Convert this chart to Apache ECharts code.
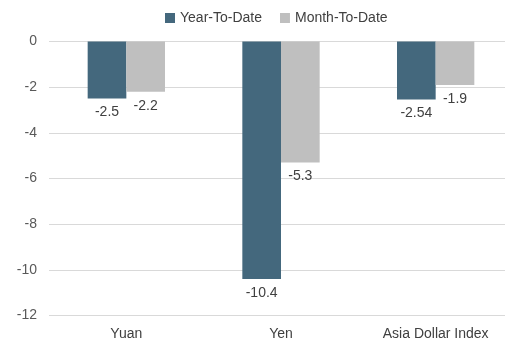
<!DOCTYPE html>
<html>
<head>
<meta charset="utf-8">
<script src="https://cdn.jsdelivr.net/npm/echarts@6/dist/echarts.min.js"></script>
<style>
  html, body { margin: 0; padding: 0; background: #fff; }
  #chart { width: 505px; height: 342px; }
</style>
</head>
<body>
<div id="chart"></div>
<script>
// Currency performance, in percent
const categories = ['Yuan', 'Yen', 'Asia Dollar Index'];
const yearToDate = [-2.5, -10.4, -2.54];
const monthToDate = [-2.2, -5.3, -1.9];
const seriesNames = ['Year-To-Date', 'Month-To-Date'];

const font = 'Arial, "Liberation Sans", sans-serif';

const chart = echarts.init(document.getElementById('chart'));

function barSeries(name, values, color) {
  return {
    name: name,
    type: 'bar',
    data: values,
    barGap: '0%',
    barCategoryGap: '50%',
    itemStyle: { color: color },
    label: {
      show: true,
      position: 'bottom',
      distance: 7,
      color: '#404040',
      fontSize: 14,
      fontFamily: font,
      formatter: p => String(p.value)
    }
  };
}

chart.setOption({
  animation: false,
  legend: {
    top: 6,
    left: 160,
    itemWidth: 10,
    itemHeight: 10,
    itemGap: 18,
    icon: 'rect',
    textStyle: { color: '#404040', fontSize: 14, fontFamily: font },
    data: seriesNames
  },
  // plot area runs slightly past the right edge of the canvas
  grid: {
    left: 49, width: 464, top: 41.5, height: 274,
    containLabel: false, outerBoundsMode: 'none'
  },
  xAxis: {
    type: 'category',
    data: categories,
    axisLine: { show: false, onZero: false },
    axisTick: { show: false },
    axisLabel: { color: '#404040', fontSize: 14, fontFamily: font, margin: 12 }
  },
  yAxis: {
    type: 'value',
    min: -12,
    max: 0,
    interval: 2,
    axisLine: { show: false },
    axisTick: { show: false },
    axisLabel: { color: '#595959', fontSize: 14, fontFamily: font, margin: 12 },
    splitLine: { lineStyle: { color: '#D9D9D9', width: 1 } }
  },
  series: [
    barSeries(seriesNames[0], yearToDate, '#44687D'),
    barSeries(seriesNames[1], monthToDate, '#BFBFBF')
  ]
});
</script>
</body>
</html>
